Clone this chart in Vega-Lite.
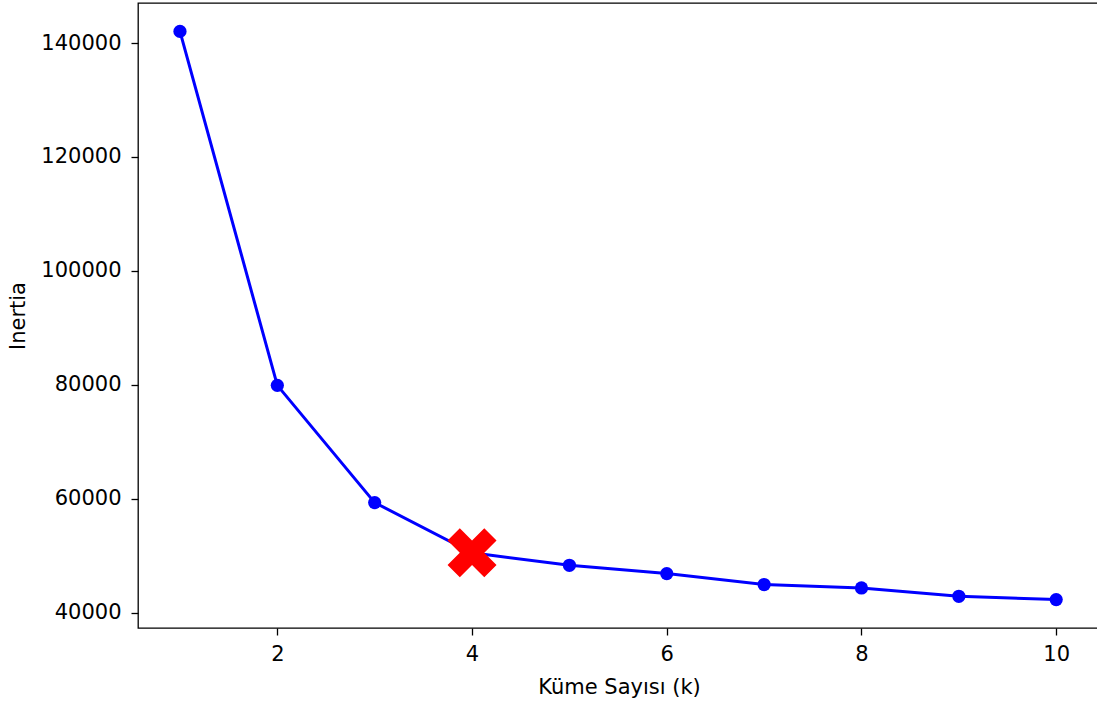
{
  "$schema": "https://vega.github.io/schema/vega-lite/v6.json",
  "width": 962,
  "height": 625,
  "autosize": {"type": "none"},
  "padding": {"left": 138, "top": 3, "right": -3, "bottom": 76},
  "background": "white",
  "config": {
    "view": {"stroke": "black", "strokeWidth": 1.3},
    "axis": {
      "labelFont": "DejaVu Sans",
      "labelFontSize": 21,
      "titleFont": "DejaVu Sans",
      "titleFontSize": 21,
      "titleFontWeight": "normal",
      "labelColor": "black",
      "titleColor": "black",
      "tickColor": "black",
      "tickSize": 7,
      "tickWidth": 1.3,
      "domain": false,
      "grid": false
    }
  },
  "data": {
    "values": [
      {"k": 1, "inertia": 142050},
      {"k": 2, "inertia": 79900},
      {"k": 3, "inertia": 59310},
      {"k": 4, "inertia": 50500},
      {"k": 5, "inertia": 48300},
      {"k": 6, "inertia": 46850},
      {"k": 7, "inertia": 44920},
      {"k": 8, "inertia": 44320},
      {"k": 9, "inertia": 42860},
      {"k": 10, "inertia": 42280}
    ]
  },
  "encoding": {
    "x": {
      "field": "k",
      "type": "quantitative",
      "scale": {"domain": [0.569, 10.45], "nice": false, "zero": false},
      "axis": {"values": [2, 4, 6, 8, 10], "title": "Küme Sayısı (k)", "labelPadding": 8, "titlePadding": 12, "labelFlush": false}
    },
    "y": {
      "field": "inertia",
      "type": "quantitative",
      "scale": {"domain": [37290, 147040], "nice": false, "zero": false},
      "axis": {"values": [40000, 60000, 80000, 100000, 120000, 140000], "format": "d", "title": "Inertia", "labelPadding": 10, "titlePadding": 12, "labelFlush": false}
    }
  },
  "layer": [
    {"mark": {"type": "line", "color": "#0000ff", "strokeWidth": 3}},
    {"mark": {"type": "point", "filled": true, "color": "#0000ff", "size": 175, "opacity": 1}},
    {
      "transform": [{"filter": "datum.k == 4"}],
      "mark": {
        "type": "point",
        "filled": true,
        "color": "#ff0000",
        "opacity": 1,
        "size": 2400,
        "shape": "M-0.5,-1L0,-0.5L0.5,-1L1,-0.5L0.5,0L1,0.5L0.5,1L0,0.5L-0.5,1L-1,0.5L-0.5,0L-1,-0.5Z"
      }
    }
  ]
}
